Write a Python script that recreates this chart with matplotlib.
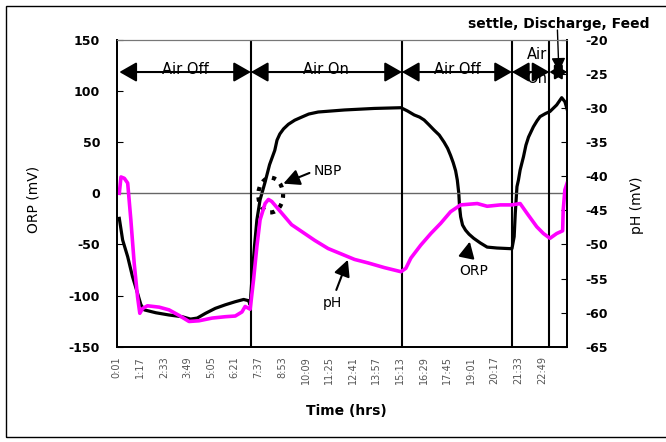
import matplotlib.pyplot as plt
from matplotlib.patches import Ellipse, Rectangle

# hours since 0:01
orp_t = [0.14, 0.32, 0.59, 0.85, 1.12, 1.30, 1.48, 2.10, 2.81, 3.52, 3.96, 4.32, 4.76,
         5.29, 5.83, 6.36, 6.81, 7.07, 7.16, 7.25, 7.39, 7.52, 7.69, 7.96, 8.20, 8.48,
         8.60, 8.75, 8.95, 9.21, 9.55, 9.92, 10.30, 10.81, 12.22, 13.82, 15.25, 15.60,
         15.96, 16.25, 16.49, 16.75, 17.02, 17.30, 17.56, 17.75, 17.91, 18.05, 18.18,
         18.27, 18.35, 18.39, 18.45, 18.55, 18.71, 18.90, 19.15, 19.50, 19.87, 20.40,
         21.20, 21.32, 21.38, 21.47, 21.55, 21.64, 21.82, 21.95, 22.09, 22.35, 22.55,
         22.71, 23.00, 23.24, 23.60, 23.87, 24.04, 24.16]
orp_mv = [-24.5, -45.7, -62, -81.6, -97.8, -109, -114, -116.8, -119, -120.7, -123, -122,
          -117.4, -112.5, -109, -106, -103.8, -105, -109, -84.8, -52, -26, -6.5, 11, 28,
          42, 52, 58, 63, 67.5, 71.5, 74.5, 77.5, 79.5, 81.5, 83, 83.7, 80.5, 76.6, 74.5,
          71.7, 67, 61.9, 57, 50, 44, 37, 30, 22, 13, 0, -13, -23, -31, -36, -40, -44,
          -48.5, -52.6, -53.5, -54.2, -42.4, -19.5, 6.5, 13, 22.8, 35.8, 47, 55, 65, 71,
          75, 78, 80, 86.4, 93.5, 89.6, 82.2]

ph_t = [0.14, 0.23, 0.41, 0.59, 0.76, 0.94, 1.12, 1.24, 1.39, 1.65, 2.28, 2.81, 3.34, 3.88,
        4.41, 5.12, 5.83, 6.36, 6.72, 6.89, 7.16, 7.34, 7.52, 7.69, 7.96, 8.14, 8.32, 8.85,
        9.38, 9.92, 10.62, 11.34, 12.05, 12.76, 13.47, 14.36, 15.25, 15.51, 15.78, 16.31,
        16.85, 17.38, 17.91, 18.45, 19.34, 19.87, 20.58, 21.20, 21.64, 22.00, 22.53, 22.89,
        23.24, 23.60, 23.92, 23.95, 24.04, 24.16]
ph_mv = [-42.5, -40.1, -40.3, -41, -46.4, -52.8, -57.7, -60.1, -59.4, -59, -59.2, -59.6,
         -60.4, -61.3, -61.2, -60.8, -60.6, -60.5, -59.9, -59.1, -59.5, -55.2, -50.3, -46.4,
         -44, -43.4, -43.7, -45.4, -47.1, -48.1, -49.4, -50.6, -51.4, -52.2, -52.7, -53.4,
         -54, -53.5, -52, -50.1, -48.4, -46.9, -45.2, -44.2, -44, -44.4, -44.2, -44.2, -44,
         -45.4, -47.4, -48.4, -49.1, -48.4, -48, -45, -42, -41]

time_labels = ['0:01', '1:17', '2:33', '3:49', '5:05', '6:21', '7:37', '8:53', '10:09',
               '11:25', '12:41', '13:57', '15:13', '16:29', '17:45', '19:01', '20:17',
               '21:33', '22:49']
tick_t = [k * 76 / 60 for k in range(len(time_labels))]

phase_edges = [0.144, 7.2, 15.3, 21.2, 23.21, 24.17]
phase_names = ['Air Off', 'Air On', 'Air Off']

plt.rcParams['axes.unicode_minus'] = False

fig = plt.figure(figsize=(6.66, 4.42), dpi=100)
ax = fig.add_axes([0.1752, 0.2156, 0.6766, 0.6941])
ax2 = ax.twinx()

ax.plot(orp_t, orp_mv, color='black', lw=2.3, solid_joinstyle='round')
ax2.plot(ph_t, ph_mv, color='#ff00ff', lw=2.6, solid_joinstyle='round')

ax.axhline(0, color='#666666', lw=1)
for x in phase_edges[1:-1]:
    ax.axvline(x, color='black', lw=1.5)

ax.set_xlim(phase_edges[0], phase_edges[-1])
ax.set_ylim(-150, 150)
ax2.set_ylim(-65, -20)

ax.set_yticks(range(-150, 151, 50))
ax2.set_yticks(range(-65, -19, 5))
ax.tick_params(axis='y', direction='in', length=4, pad=12, labelsize=9)
ax2.tick_params(axis='y', direction='in', length=4, pad=13, labelsize=9)
for lbl in ax.get_yticklabels() + ax2.get_yticklabels():
    lbl.set_fontweight('bold')

ax.set_xticks(tick_t)
ax.set_xticklabels(time_labels, rotation=90, fontsize=7, color='#555555')
ax.tick_params(axis='x', length=0, pad=7)

ax.set_ylabel('ORP (mV)', fontsize=10)
ax.yaxis.set_label_coords(-0.17, 0.48)
ax2.set_ylabel('pH (mV)', fontsize=10, rotation=90)
ax2.yaxis.set_label_coords(1.139, 0.46)
ax.set_xlabel('Time (hrs)', fontsize=10, fontweight='bold')
ax.xaxis.set_label_coords(0.509, -0.187)

for a in (ax, ax2):
    a.spines['top'].set_color('#777777')
    for s in ('left', 'right', 'bottom'):
        a.spines[s].set_linewidth(1.3)

arrow_y = 118.6
for i in range(len(phase_edges) - 1):
    a, b = phase_edges[i], phase_edges[i + 1]
    small = (b - a) < 1.5
    style = '<|-|>,head_length=0.5,head_width=0.3' if small else '<|-|>,head_length=0.7,head_width=0.4'
    ax.annotate('', xy=(b, arrow_y), xytext=(a, arrow_y),
                arrowprops=dict(arrowstyle=style, color='black', lw=1.5,
                                shrinkA=0, shrinkB=0, mutation_scale=15))

for i, name in enumerate(phase_names):
    mid = (phase_edges[i] + phase_edges[i + 1]) / 2
    ax.text(mid, 121, name, ha='center', va='center', fontsize=10.5)
ax.text(22.53, 135.3, 'Air', ha='center', va='center', fontsize=10.5)
ax.text(22.53, 111.8, 'On', ha='center', va='center', fontsize=10.5)

ax.text(18.82, 165.4, 'settle, Discharge, Feed', ha='left', va='center', fontsize=10,
        fontweight='bold', clip_on=False)
ax.annotate('', xy=(23.72, 118.7), xytext=(23.64, 159.7), annotation_clip=False,
            arrowprops=dict(arrowstyle='-|>,head_length=0.6,head_width=0.3', color='black',
                            lw=1, mutation_scale=14, shrinkA=0, shrinkB=0))

head = '-|>,head_length=0.7,head_width=0.35'
ax.text(11.3, 21.7, 'NBP', ha='center', va='center', fontsize=10)
ax.annotate('', xy=(8.94, 9.5), xytext=(10.34, 19.9),
            arrowprops=dict(arrowstyle=head, color='black', lw=1.5, mutation_scale=14,
                            shrinkA=0, shrinkB=0))
ax.add_patch(Ellipse((8.26, -1.7), width=1.33, height=34, fill=False, ec='black',
                     ls=(0, (1, 1.5)), lw=3))

ax.text(11.57, -107, 'pH', ha='center', va='center', fontsize=10)
ax.annotate('', xy=(12.4, -65), xytext=(11.78, -94.5),
            arrowprops=dict(arrowstyle=head, color='black', lw=1.5, mutation_scale=14,
                            shrinkA=0, shrinkB=0))

ax.text(19.14, -76, 'ORP', ha='center', va='center', fontsize=10)
ax.annotate('', xy=(18.94, -47.2), xytext=(18.77, -62),
            arrowprops=dict(arrowstyle=head, color='black', lw=1.5, mutation_scale=14,
                            shrinkA=0, shrinkB=0))

fig.add_artist(Rectangle((0.009, 0.0113), 1.2, 0.975, transform=fig.transFigure,
                         fill=False, ec='black', lw=1))

fig.savefig('out.png', dpi=100)
